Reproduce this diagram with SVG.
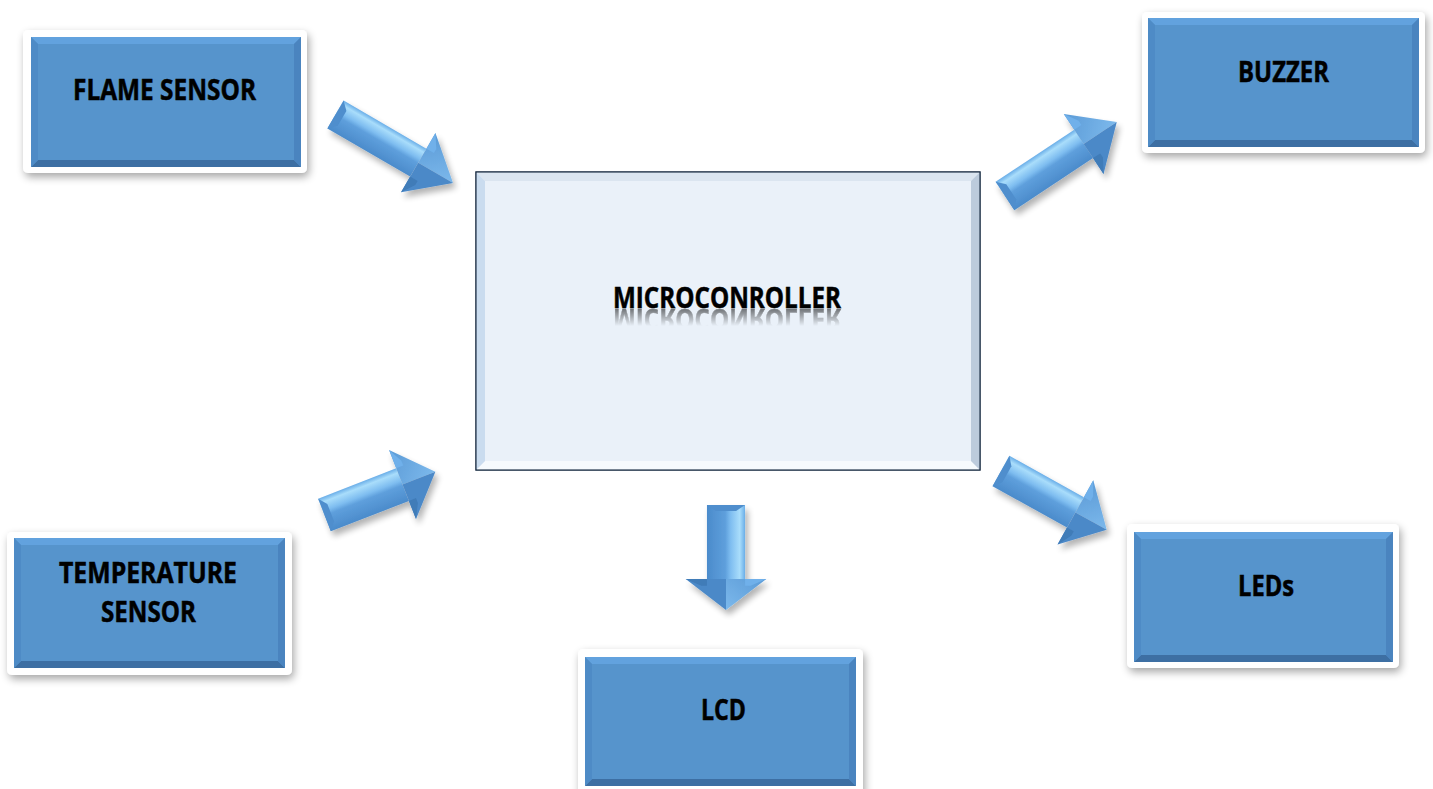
<svg xmlns="http://www.w3.org/2000/svg" xmlns:xlink="http://www.w3.org/1999/xlink" width="1433" height="789" viewBox="0 0 1433 789">
  <style>
    .frame { fill: #ffffff; }
    .blue { fill: #5694cc; }
    .bt { fill: #62a2de; }
    .bb { fill: #3d6fa3; }
    .bl { fill: #4e8bc6; }
    .br { fill: #4a84bf; }
    .lbl { font-family: "Open Sans", "Liberation Sans", sans-serif; font-weight: 700; font-size: 28px; fill: #000; stroke: #000; stroke-width: 0.5; text-anchor: middle; }
  </style>
  <defs>
    <filter id="boxShadow" x="-10%" y="-10%" width="120%" height="130%">
      <feGaussianBlur in="SourceAlpha" stdDeviation="4"/>
      <feOffset dx="2" dy="4" result="b"/>
      <feComponentTransfer><feFuncA type="linear" slope="0.35"/></feComponentTransfer>
      <feMerge><feMergeNode/><feMergeNode in="SourceGraphic"/></feMerge>
    </filter>
    <filter id="arrowShadow" x="-20%" y="-20%" width="140%" height="140%">
      <feGaussianBlur in="SourceAlpha" stdDeviation="3"/>
      <feOffset dx="3" dy="5"/>
      <feComponentTransfer><feFuncA type="linear" slope="0.3"/></feComponentTransfer>
      <feMerge><feMergeNode/><feMergeNode in="SourceGraphic"/></feMerge>
    </filter>
    <linearGradient id="shaftGrad" x1="0" y1="0" x2="0" y2="1">
      <stop offset="0" stop-color="#6aaee8"/>
      <stop offset="0.14" stop-color="#a9ddfb"/>
      <stop offset="0.38" stop-color="#7ebdf0"/>
      <stop offset="0.52" stop-color="#5e9fdc"/>
      <stop offset="1" stop-color="#4b8bcb"/>
    </linearGradient>
    <linearGradient id="headUp" x1="0" y1="0" x2="1" y2="1">
      <stop offset="0" stop-color="#5b9ad6"/>
      <stop offset="1" stop-color="#7cb9ec"/>
    </linearGradient>
    <g id="arrow">
      <path d="M0,-17 H88 V17 H0 Z" fill="url(#shaftGrad)"/>
      <polygon points="0,-17 7,-9 7,9 0,17" fill="#4f8ecd"/>
      <polygon points="88,-36 125,0 88,0" fill="url(#headUp)"/>
      <polygon points="88,0 125,0 88,36" fill="#4c89c8"/>
      <polygon points="88,-36 96,-22 96,-17 88,-17" fill="#6fb0ea"/>
      <polygon points="88,36 96,22 96,17 88,17" fill="#3f7bb8"/>
    </g>
    <linearGradient id="reflFade" gradientUnits="userSpaceOnUse" x1="0" y1="308" x2="0" y2="326">
      <stop offset="0" stop-color="#fff" stop-opacity="0.55"/>
      <stop offset="1" stop-color="#fff" stop-opacity="0"/>
    </linearGradient>
    <mask id="reflMask" maskUnits="userSpaceOnUse" x="0" y="300" width="1433" height="40">
      <rect x="0" y="308" width="1433" height="20" fill="url(#reflFade)"/>
    </mask>
  </defs>

  <rect width="1433" height="789" fill="#ffffff"/>

  <g id="connectors">
    <g filter="url(#arrowShadow)">
      <use xlink:href="#arrow" href="#arrow" transform="translate(335.5,114.5) rotate(30.2) scale(1.088,0.95)"/>
    </g>
    <g filter="url(#arrowShadow)">
      <use xlink:href="#arrow" href="#arrow" transform="translate(324.5,515) rotate(-21.3) scale(0.952,1.03)"/>
    </g>
    <g filter="url(#arrowShadow)">
      <use xlink:href="#arrow" href="#arrow" transform="translate(1005,196) rotate(-33.5) scale(1.072,1.0)"/>
    </g>
    <g filter="url(#arrowShadow)">
      <use xlink:href="#arrow" href="#arrow" transform="translate(1001,471) rotate(29.1) scale(0.968,1.02)"/>
    </g>
    <g filter="url(#arrowShadow)">
      <use xlink:href="#arrow" href="#arrow" transform="translate(726,505) rotate(90) scale(0.84,1.12)"/>
    </g>
  </g>

  <g id="microcontroller">
    <rect x="476" y="172" width="504" height="298" fill="#eaf1f9" stroke="#26374d" stroke-width="1.2"/>
    <polygon points="476,172 980,172 971,181 485,181" fill="#dbe5f0"/>
    <polygon points="476,470 980,470 971,461 485,461" fill="#f6fafd"/>
    <polygon points="476,172 485,181 485,461 476,470" fill="#cadcef"/>
    <polygon points="980,172 971,181 971,461 980,470" fill="#bccbdc"/>
    <rect x="476" y="172" width="504" height="298" fill="none" stroke="#26374d" stroke-width="1.2"/>
    <text class="lbl" x="727" y="308" textLength="228" lengthAdjust="spacingAndGlyphs">MICROCONROLLER</text>
    <g mask="url(#reflMask)">
      <text class="lbl" x="727" y="308" textLength="228" lengthAdjust="spacingAndGlyphs" transform="translate(0,617) scale(1,-1)">MICROCONROLLER</text>
    </g>
  </g>

  <g id="flame-sensor">
    <rect class="frame" x="23" y="30" width="284" height="143" rx="5" filter="url(#boxShadow)"/>
    <rect class="blue" x="31" y="37" width="270" height="130"/>
    <polygon class="bt" points="31,37 301,37 294,44 38,44"/>
    <polygon class="bb" points="31,167 301,167 294,160 38,160"/>
    <polygon class="bl" points="31,37 38,44 38,160 31,167"/>
    <polygon class="br" points="301,37 294,44 294,160 301,167"/>
    <text class="lbl" x="164.5" y="100" textLength="183" lengthAdjust="spacingAndGlyphs">FLAME SENSOR</text>
  </g>

  <g id="buzzer">
    <rect class="frame" x="1142" y="12" width="283" height="141" rx="5" filter="url(#boxShadow)"/>
    <rect class="blue" x="1148" y="18" width="271" height="129"/>
    <polygon class="bt" points="1148,18 1419,18 1412,25 1155,25"/>
    <polygon class="bb" points="1148,147 1419,147 1412,140 1155,140"/>
    <polygon class="bl" points="1148,18 1155,25 1155,140 1148,147"/>
    <polygon class="br" points="1419,18 1412,25 1412,140 1419,147"/>
    <text class="lbl" x="1283.5" y="82" textLength="91" lengthAdjust="spacingAndGlyphs">BUZZER</text>
  </g>

  <g id="temperature-sensor">
    <rect class="frame" x="7" y="532" width="285" height="143" rx="5" filter="url(#boxShadow)"/>
    <rect class="blue" x="14" y="538" width="271" height="130"/>
    <polygon class="bt" points="14,538 285,538 278,545 21,545"/>
    <polygon class="bb" points="14,668 285,668 278,661 21,661"/>
    <polygon class="bl" points="14,538 21,545 21,661 14,668"/>
    <polygon class="br" points="285,538 278,545 278,661 285,668"/>
    <text class="lbl" x="148" y="583" textLength="178" lengthAdjust="spacingAndGlyphs">TEMPERATURE</text>
    <text class="lbl" x="148.5" y="622" textLength="95" lengthAdjust="spacingAndGlyphs">SENSOR</text>
  </g>

  <g id="lcd">
    <rect class="frame" x="578" y="649" width="285" height="150" rx="5" filter="url(#boxShadow)"/>
    <rect class="blue" x="585" y="657" width="271" height="129"/>
    <polygon class="bt" points="585,657 856,657 849,664 592,664"/>
    <polygon class="bb" points="585,786 856,786 849,779 592,779"/>
    <polygon class="bl" points="585,657 592,664 592,779 585,786"/>
    <polygon class="br" points="856,657 849,664 849,779 856,786"/>
    <text class="lbl" x="723.5" y="720" textLength="45" lengthAdjust="spacingAndGlyphs">LCD</text>
  </g>

  <g id="leds">
    <rect class="frame" x="1127" y="524" width="272" height="144" rx="5" filter="url(#boxShadow)"/>
    <rect class="blue" x="1134" y="532" width="259" height="130"/>
    <polygon class="bt" points="1134,532 1393,532 1386,539 1141,539"/>
    <polygon class="bb" points="1134,662 1393,662 1386,655 1141,655"/>
    <polygon class="bl" points="1134,532 1141,539 1141,655 1134,662"/>
    <polygon class="br" points="1393,532 1386,539 1386,655 1393,662"/>
    <text class="lbl" x="1266" y="596" textLength="56" lengthAdjust="spacingAndGlyphs">LEDs</text>
  </g>
</svg>
